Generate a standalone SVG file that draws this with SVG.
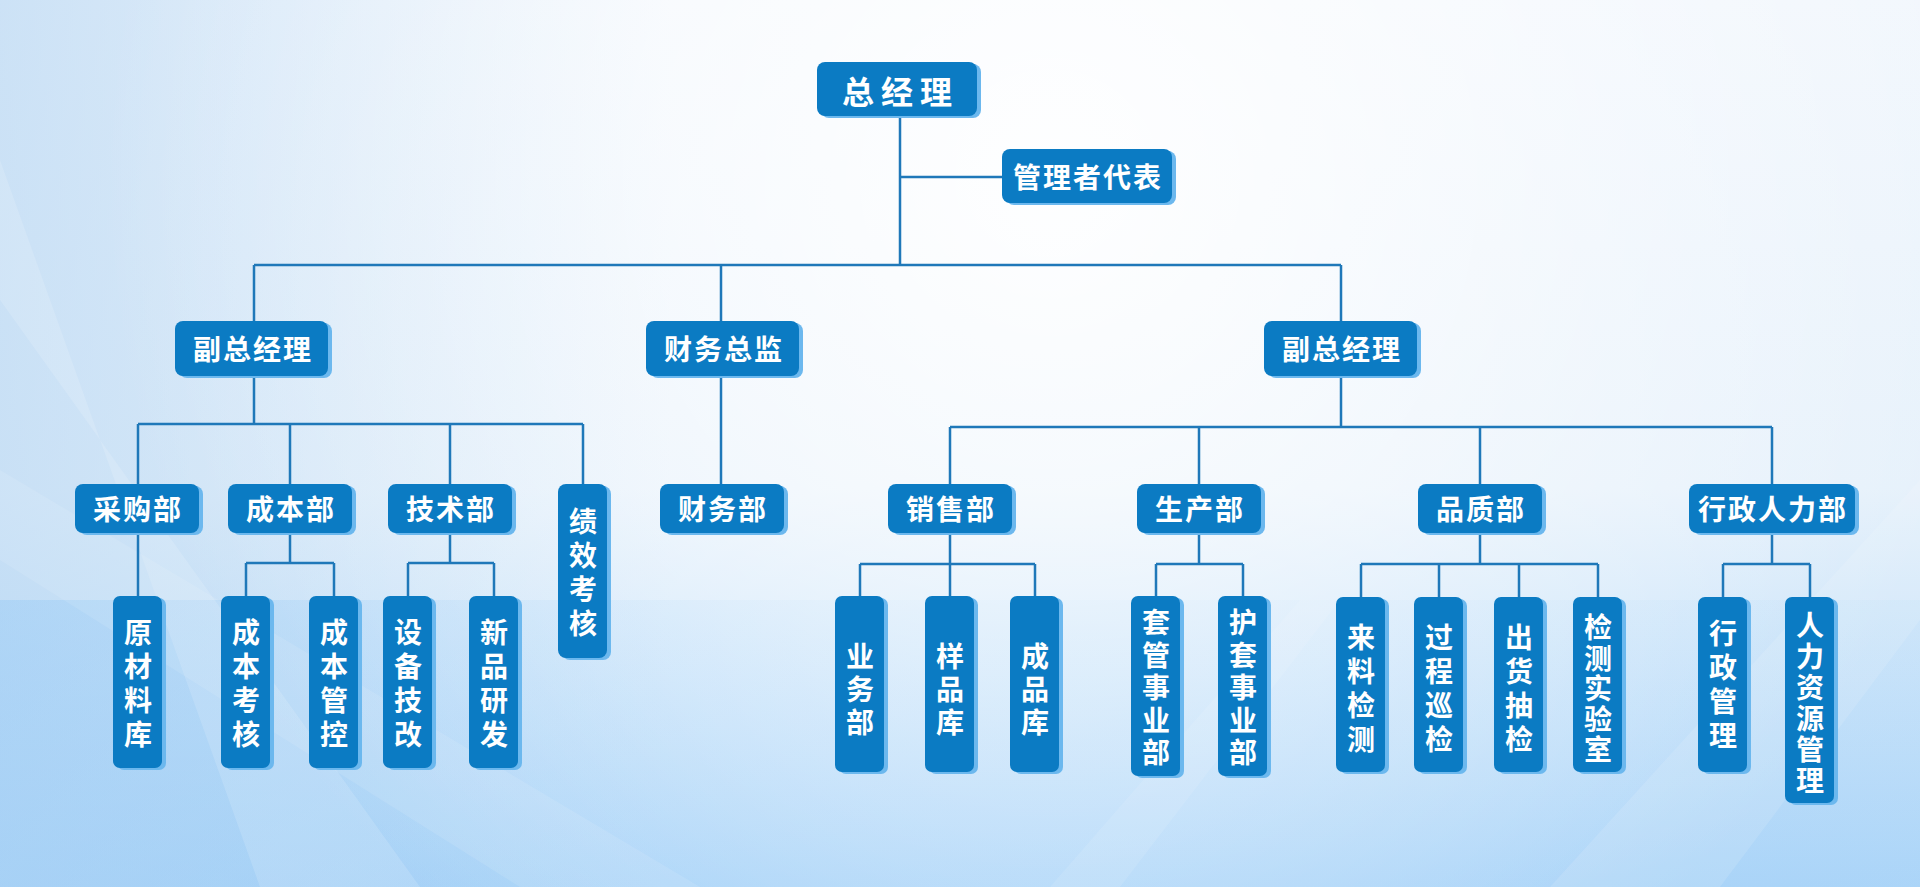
<svg xmlns="http://www.w3.org/2000/svg" width="1920" height="887" viewBox="0 0 1920 887">
<defs>
<linearGradient id="bg" x1="0" y1="0" x2="0" y2="1">
<stop offset="0" stop-color="#f2f7fd"/>
<stop offset="0.55" stop-color="#e6f1fb"/>
<stop offset="1" stop-color="#a8d3f8"/>
</linearGradient>
<radialGradient id="glow" cx="1050" cy="180" r="950" gradientUnits="userSpaceOnUse">
<stop offset="0" stop-color="#ffffff" stop-opacity="0.95"/>
<stop offset="0.6" stop-color="#ffffff" stop-opacity="0.35"/>
<stop offset="1" stop-color="#ffffff" stop-opacity="0"/>
</radialGradient>
<linearGradient id="leftTint" x1="0" y1="0" x2="1" y2="0">
<stop offset="0" stop-color="#bcd9f3" stop-opacity="0.7"/>
<stop offset="0.35" stop-color="#bcd9f3" stop-opacity="0"/>
</linearGradient>
<linearGradient id="botTint" x1="0" y1="0" x2="1" y2="0">
<stop offset="0" stop-color="#8cc6f7" stop-opacity="0.6"/>
<stop offset="0.5" stop-color="#9fd0f8" stop-opacity="0.2"/>
<stop offset="1" stop-color="#b8dcf8" stop-opacity="0.3"/>
</linearGradient>
</defs>
<style>
.box{fill:#0b7bc3}
.sh{fill:#6cb8ee}
.t{font-family:"Noto Sans CJK SC","Noto Sans CJK JP",sans-serif;font-weight:700;fill:#ffffff;text-anchor:middle;dominant-baseline:central}
.big{font-size:32px;letter-spacing:7px}
.mid{font-size:28px;letter-spacing:2px}
.v{font-size:28px}
.ln{fill:none;stroke:#1f78b9;stroke-width:2.5}
.streak{fill:#ffffff}
</style>
<rect width="1920" height="887" fill="url(#bg)"/>
<rect width="1920" height="887" fill="url(#leftTint)"/>
<rect y="600" width="1920" height="287" fill="url(#botTint)" opacity="0.6"/>
<rect width="1920" height="887" fill="url(#glow)"/>
<polygon class="streak" points="0,160 260,887 420,887 0,300" opacity="0.14"/>
<polygon class="streak" points="0,560 520,887 700,887 0,470" opacity="0.1"/>
<polygon class="streak" points="1550,887 1920,480 1920,620 1720,887" opacity="0.12"/>
<polygon class="streak" points="1050,887 1300,600 1340,600 1120,887" opacity="0.1"/>
<g id="connectors">
<path class="ln" d="M900,116V265M900,177H1002M254,265H1341M254,265V321M721,265V321M1341,265V321"/>
<path class="ln" d="M254,376V424M138,424H583M138,424V484M290,424V484M450,424V484M583,424V484"/>
<path class="ln" d="M721,376V484"/>
<path class="ln" d="M1341,376V427M950,427H1772M950,427V484M1199,427V484M1480,427V484M1772,427V484"/>
<path class="ln" d="M138,533V596"/>
<path class="ln" d="M290,533V563M246,563H334M246,563V596M334,563V596"/>
<path class="ln" d="M450,533V563M408,563H494M408,563V596M494,563V596"/>
<path class="ln" d="M950,533V564M860,564H1035M860,564V596M950,564V596M1035,564V596"/>
<path class="ln" d="M1199,533V564M1156,564H1243M1156,564V596M1243,564V596"/>
<path class="ln" d="M1480,533V564M1361,564H1598M1361,564V597M1439,564V597M1519,564V597M1598,564V597"/>
<path class="ln" d="M1772,533V564M1723,564H1810M1723,564V597M1810,564V597"/>
</g>
<g id="n-zjl"><rect class="sh" x="821" y="64" width="160" height="54" rx="8"/><rect class="box" x="817" y="62" width="160" height="54" rx="8"/><text class="t big" x="900.5" y="90">总经理</text></g>
<g id="n-gldb"><rect class="sh" x="1006" y="151" width="170" height="54" rx="8"/><rect class="box" x="1002" y="149" width="170" height="54" rx="8"/><text class="t mid" x="1088" y="176">管理者代表</text></g>
<g id="n-fzjl1"><rect class="sh" x="179" y="323" width="153" height="55" rx="8"/><rect class="box" x="175" y="321" width="153" height="55" rx="8"/><text class="t mid" x="253" y="348">副总经理</text></g>
<g id="n-cwzj"><rect class="sh" x="650" y="323" width="153" height="55" rx="8"/><rect class="box" x="646" y="321" width="153" height="55" rx="8"/><text class="t mid" x="724" y="348">财务总监</text></g>
<g id="n-fzjl2"><rect class="sh" x="1268" y="323" width="153" height="55" rx="8"/><rect class="box" x="1264" y="321" width="153" height="55" rx="8"/><text class="t mid" x="1342" y="348">副总经理</text></g>
<g id="n-cgb"><rect class="sh" x="79" y="486" width="124" height="49" rx="8"/><rect class="box" x="75" y="484" width="124" height="49" rx="8"/><text class="t mid" x="138" y="508">采购部</text></g>
<g id="n-cbb"><rect class="sh" x="232" y="486" width="124" height="49" rx="8"/><rect class="box" x="228" y="484" width="124" height="49" rx="8"/><text class="t mid" x="291" y="508">成本部</text></g>
<g id="n-jsb"><rect class="sh" x="392" y="486" width="124" height="49" rx="8"/><rect class="box" x="388" y="484" width="124" height="49" rx="8"/><text class="t mid" x="451" y="508">技术部</text></g>
<g id="n-jxkh"><rect class="sh" x="562" y="486" width="49" height="174" rx="8"/><rect class="box" x="558" y="484" width="49" height="174" rx="8"/><text class="t v"><tspan x="583" y="520">绩</tspan><tspan x="583" y="554">效</tspan><tspan x="583" y="588">考</tspan><tspan x="583" y="622">核</tspan></text></g>
<g id="n-cwb"><rect class="sh" x="664" y="486" width="124" height="49" rx="8"/><rect class="box" x="660" y="484" width="124" height="49" rx="8"/><text class="t mid" x="723" y="508">财务部</text></g>
<g id="n-xsb"><rect class="sh" x="892" y="486" width="124" height="49" rx="8"/><rect class="box" x="888" y="484" width="124" height="49" rx="8"/><text class="t mid" x="951" y="508">销售部</text></g>
<g id="n-scb"><rect class="sh" x="1141" y="486" width="124" height="49" rx="8"/><rect class="box" x="1137" y="484" width="124" height="49" rx="8"/><text class="t mid" x="1200" y="508">生产部</text></g>
<g id="n-pzb"><rect class="sh" x="1422" y="486" width="124" height="49" rx="8"/><rect class="box" x="1418" y="484" width="124" height="49" rx="8"/><text class="t mid" x="1481" y="508">品质部</text></g>
<g id="n-xzrlb"><rect class="sh" x="1693" y="486" width="166" height="49" rx="8"/><rect class="box" x="1689" y="484" width="166" height="49" rx="8"/><text class="t mid" x="1773" y="508">行政人力部</text></g>
<g id="n-ycl"><rect class="sh" x="117" y="598" width="49" height="172" rx="7"/><rect class="box" x="113" y="596" width="49" height="172" rx="7"/><text class="t v"><tspan x="138" y="631">原</tspan><tspan x="138" y="665">材</tspan><tspan x="138" y="699">料</tspan><tspan x="138" y="733">库</tspan></text></g>
<g id="n-cbkh"><rect class="sh" x="225" y="598" width="49" height="172" rx="7"/><rect class="box" x="221" y="596" width="49" height="172" rx="7"/><text class="t v"><tspan x="246" y="631">成</tspan><tspan x="246" y="665">本</tspan><tspan x="246" y="699">考</tspan><tspan x="246" y="733">核</tspan></text></g>
<g id="n-cbgk"><rect class="sh" x="313" y="598" width="49" height="172" rx="7"/><rect class="box" x="309" y="596" width="49" height="172" rx="7"/><text class="t v"><tspan x="334" y="631">成</tspan><tspan x="334" y="665">本</tspan><tspan x="334" y="699">管</tspan><tspan x="334" y="733">控</tspan></text></g>
<g id="n-sbjg"><rect class="sh" x="387" y="598" width="49" height="172" rx="7"/><rect class="box" x="383" y="596" width="49" height="172" rx="7"/><text class="t v"><tspan x="408" y="631">设</tspan><tspan x="408" y="665">备</tspan><tspan x="408" y="699">技</tspan><tspan x="408" y="733">改</tspan></text></g>
<g id="n-xpyf"><rect class="sh" x="473" y="598" width="49" height="172" rx="7"/><rect class="box" x="469" y="596" width="49" height="172" rx="7"/><text class="t v"><tspan x="494" y="631">新</tspan><tspan x="494" y="665">品</tspan><tspan x="494" y="699">研</tspan><tspan x="494" y="733">发</tspan></text></g>
<g id="n-ywb"><rect class="sh" x="839" y="598" width="49" height="176" rx="7"/><rect class="box" x="835" y="596" width="49" height="176" rx="7"/><text class="t v"><tspan x="860" y="655">业</tspan><tspan x="860" y="688">务</tspan><tspan x="860" y="721">部</tspan></text></g>
<g id="n-ypk"><rect class="sh" x="929" y="598" width="49" height="176" rx="7"/><rect class="box" x="925" y="596" width="49" height="176" rx="7"/><text class="t v"><tspan x="950" y="655">样</tspan><tspan x="950" y="688">品</tspan><tspan x="950" y="721">库</tspan></text></g>
<g id="n-cpk"><rect class="sh" x="1014" y="598" width="49" height="176" rx="7"/><rect class="box" x="1010" y="596" width="49" height="176" rx="7"/><text class="t v"><tspan x="1035" y="655">成</tspan><tspan x="1035" y="688">品</tspan><tspan x="1035" y="721">库</tspan></text></g>
<g id="n-tgsyb"><rect class="sh" x="1135" y="598" width="49" height="180" rx="7"/><rect class="box" x="1131" y="596" width="49" height="180" rx="7"/><text class="t v"><tspan x="1156" y="621">套</tspan><tspan x="1156" y="653.5">管</tspan><tspan x="1156" y="686">事</tspan><tspan x="1156" y="718.5">业</tspan><tspan x="1156" y="751">部</tspan></text></g>
<g id="n-htsyb"><rect class="sh" x="1222" y="598" width="49" height="180" rx="7"/><rect class="box" x="1218" y="596" width="49" height="180" rx="7"/><text class="t v"><tspan x="1243" y="621">护</tspan><tspan x="1243" y="653.5">套</tspan><tspan x="1243" y="686">事</tspan><tspan x="1243" y="718.5">业</tspan><tspan x="1243" y="751">部</tspan></text></g>
<g id="n-lljc"><rect class="sh" x="1340" y="599" width="49" height="175" rx="7"/><rect class="box" x="1336" y="597" width="49" height="175" rx="7"/><text class="t v"><tspan x="1361" y="636">来</tspan><tspan x="1361" y="670">料</tspan><tspan x="1361" y="704">检</tspan><tspan x="1361" y="738">测</tspan></text></g>
<g id="n-gcxj"><rect class="sh" x="1418" y="599" width="49" height="175" rx="7"/><rect class="box" x="1414" y="597" width="49" height="175" rx="7"/><text class="t v"><tspan x="1439" y="636">过</tspan><tspan x="1439" y="670">程</tspan><tspan x="1439" y="704">巡</tspan><tspan x="1439" y="738">检</tspan></text></g>
<g id="n-chcj"><rect class="sh" x="1498" y="599" width="49" height="175" rx="7"/><rect class="box" x="1494" y="597" width="49" height="175" rx="7"/><text class="t v"><tspan x="1519" y="636">出</tspan><tspan x="1519" y="670">货</tspan><tspan x="1519" y="704">抽</tspan><tspan x="1519" y="738">检</tspan></text></g>
<g id="n-jcsys"><rect class="sh" x="1577" y="599" width="49" height="175" rx="7"/><rect class="box" x="1573" y="597" width="49" height="175" rx="7"/><text class="t v"><tspan x="1598" y="626">检</tspan><tspan x="1598" y="656.5">测</tspan><tspan x="1598" y="687">实</tspan><tspan x="1598" y="717.5">验</tspan><tspan x="1598" y="748">室</tspan></text></g>
<g id="n-xzgl"><rect class="sh" x="1702" y="599" width="49" height="175" rx="7"/><rect class="box" x="1698" y="597" width="49" height="175" rx="7"/><text class="t v"><tspan x="1723" y="632">行</tspan><tspan x="1723" y="666">政</tspan><tspan x="1723" y="700">管</tspan><tspan x="1723" y="734">理</tspan></text></g>
<g id="n-rlzygl"><rect class="sh" x="1789" y="599" width="49" height="206" rx="7"/><rect class="box" x="1785" y="597" width="49" height="206" rx="7"/><text class="t v"><tspan x="1810" y="623.5">人</tspan><tspan x="1810" y="654.5">力</tspan><tspan x="1810" y="685.5">资</tspan><tspan x="1810" y="716.5">源</tspan><tspan x="1810" y="747.5">管</tspan><tspan x="1810" y="778.5">理</tspan></text></g>
</svg>
